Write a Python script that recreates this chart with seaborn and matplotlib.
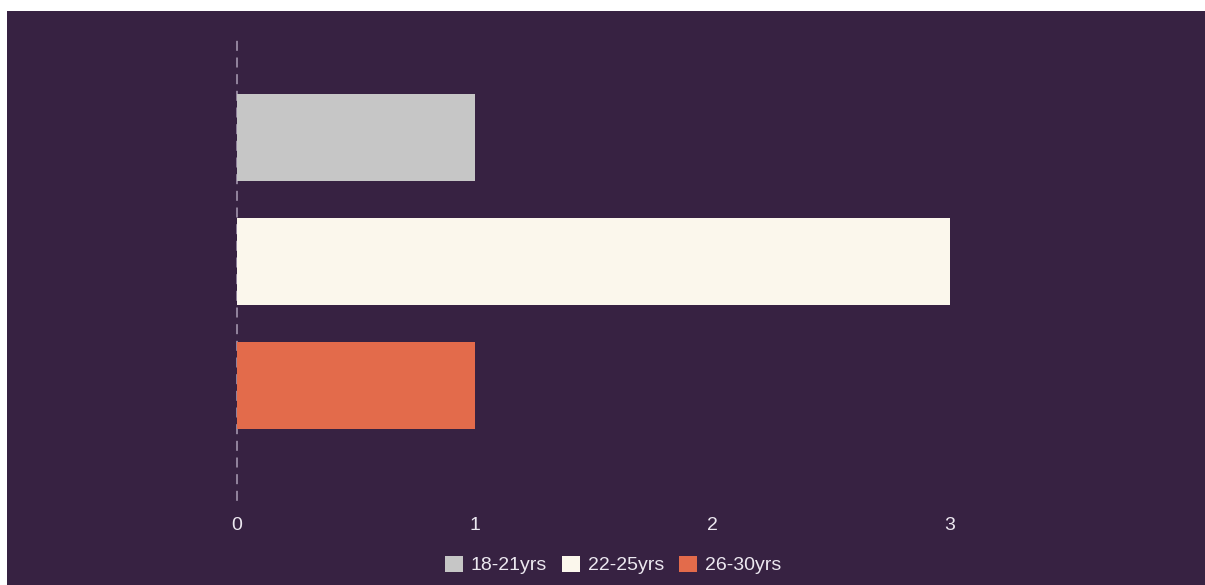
import matplotlib
matplotlib.use("Agg")
import matplotlib.pyplot as plt
from matplotlib.patches import Rectangle
import seaborn as sns
import pandas as pd

# Age groups and their counts
age_groups = ["18-21yrs", "22-25yrs", "26-30yrs"]
counts = [1, 3, 1]
bar_colors = ["#c6c6c6", "#fbf7ec", "#e36b4b"]
x_ticks = [0, 1, 2, 3]

BG = "#372242"
TEXT = "#ece8f0"

sns.set_theme(style="white")
plt.rcParams["font.family"] = ["Liberation Sans", "DejaVu Sans"]

df = pd.DataFrame({"group": age_groups, "count": counts})

W, H = 1205, 585
fig = plt.figure(figsize=(W / 100, H / 100), dpi=100, facecolor="white")
# dark panel behind the chart
fig.patches.append(Rectangle((7 / W, 0), 1 - 7 / W, 1 - 11 / H,
                             transform=fig.transFigure, facecolor=BG,
                             edgecolor="none", zorder=-10))

ax = fig.add_axes([237 / W, 1 - 500 / H, 950 / W, 465 / H])
ax.set_facecolor(BG)
ax.patch.set_alpha(0)

sns.barplot(data=df, y="group", x="count", hue="group", order=age_groups,
            hue_order=age_groups, palette=bar_colors, width=0.7, dodge=False,
            saturation=1, orient="h", legend=True, linewidth=0,
            edgecolor="none", ax=ax)
for bar in ax.patches:
    bar.set_zorder(3)

ax.set_xlim(0, 4)
ax.set_ylim(2.923, -0.827)
ax.set_xticks(x_ticks)
ax.set_xticklabels([str(t) for t in x_ticks])
ax.set_yticks([])
ax.set_xlabel("")
ax.set_ylabel("")
ax.tick_params(axis="x", length=0, pad=12, labelsize=14, colors=TEXT)

for side in ["top", "right", "bottom"]:
    ax.spines[side].set_visible(False)
left = ax.spines["left"]
left.set_visible(True)
left.set_color("#a395ad")
left.set_linewidth(1.2)
left.set_linestyle((0, (5, 5)))
left.set_zorder(1)

sns.move_legend(ax, "center", bbox_to_anchor=(613 / W, 1 - 565 / H),
                bbox_transform=fig.transFigure, ncol=3, frameon=False,
                title=None, fontsize=14, labelcolor=TEXT,
                handlelength=0.9, handleheight=0.9, handletextpad=0.4,
                columnspacing=0.8)

fig.savefig("out.png", dpi=100, facecolor=fig.get_facecolor())
